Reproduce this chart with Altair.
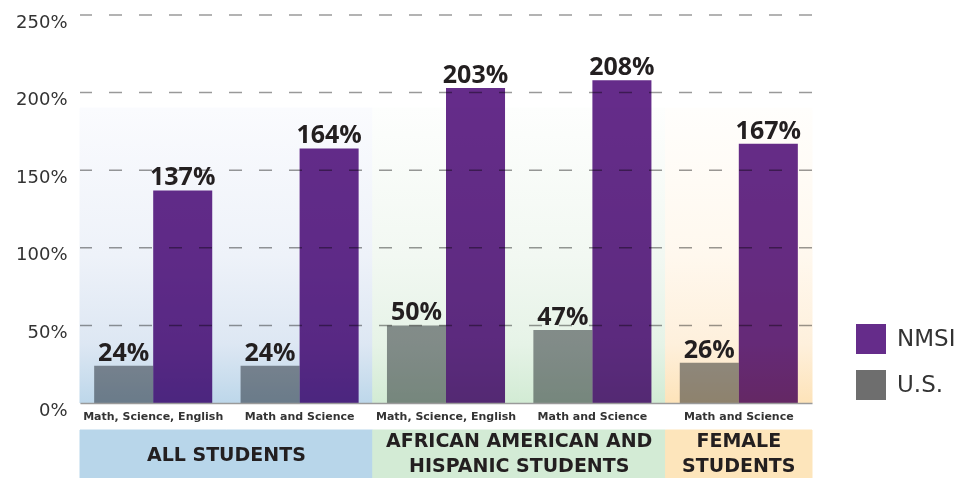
import altair as alt
import pandas as pd

# ---------------- data ----------------
group_names = ["ALL STUDENTS", "AFRICAN AMERICAN AND\nHISPANIC STUDENTS", "FEMALE\nSTUDENTS"]
subjects = ["Math, Science, English", "Math and Science",
            "Math, Science, English", "Math and Science", "Math and Science"]
subject_group = [0, 0, 1, 1, 2]
us_values = [24, 24, 50, 47, 26]
nmsi_values = [137, 164, 203, 208, 167]
series_names = ["U.S.", "NMSI"]
legend_order = ["NMSI", "U.S."]
y_ticks = [0, 50, 100, 150, 200, 250]

keys = [f"{i}|{s}" for i, s in enumerate(subjects)]

rows = []
for k, g, u, n in zip(keys, subject_group, us_values, nmsi_values):
    rows.append(dict(key=k, group=g, series="U.S.", value=u))
    rows.append(dict(key=k, group=g, series="NMSI", value=n))
bars_df = pd.DataFrame(rows)
cats_df = pd.DataFrame({"key": keys, "group": subject_group})
# anchor of each group label: the category whose band edge / centre is the group's centre
group_df = pd.DataFrame({"name": group_names, "group": [0, 1, 2],
                         "key": [keys[1], keys[3], keys[4]]})
ticks_df = pd.DataFrame({"tick": y_ticks[1:]})

# ---------------- styles ----------------
BG_TOP = 190
bg_stops = [
    ["#FAFBFE", "#EEF2F9", "#DDE7F3", "#BDD7EA"],
    ["#FDFEFD", "#F2F8F2", "#E6F3E7", "#D2EBD4"],
    ["#FFFEFC", "#FFF8EE", "#FEF0DC", "#FDE3B9"],
]
box_colors = ["#B8D6EA", "#D3EBD5", "#FDE5BB"]
text_color = "#231F20"

x_scale = alt.Scale(domain=keys, paddingInner=0, paddingOuter=0)
x_axis = alt.Axis(labelExpr="split(datum.label, '|')[1]", labelAngle=0,
                  labelFont="DejaVu Sans", labelFontWeight="bold", labelFontSize=11,
                  labelColor="#333333", labelPadding=7, ticks=False, domain=True,
                  domainColor="#9a9a9a", domainWidth=1.5, labelOverlap=False,
                  grid=False, title=None)
y_scale = alt.Scale(domain=[0, 250], nice=False, zero=True)
y_axis = alt.Axis(values=y_ticks, labelExpr="datum.value + '%'", grid=False,
                  ticks=False, domain=False, labelPadding=13, labelOffset=7,
                  labelFont="DejaVu Sans", labelFontSize=18, labelColor="#333333",
                  labelBaseline="middle", title=None)

x_enc = alt.X("key:N", scale=x_scale, axis=x_axis, title=None)
off_enc = alt.XOffset("series:N", scale=alt.Scale(domain=series_names,
                                                  paddingOuter=0.24, paddingInner=0))
y_enc = alt.Y("value:Q", scale=y_scale, axis=y_axis, title=None)

layers = []
# background gradients
for g in range(3):
    grad = alt.Gradient(
        gradient="linear", x1=0, x2=0, y1=0, y2=1,
        stops=[alt.GradientStop(color=bg_stops[g][0], offset=0),
               alt.GradientStop(color=bg_stops[g][1], offset=0.5),
               alt.GradientStop(color=bg_stops[g][2], offset=0.8),
               alt.GradientStop(color=bg_stops[g][3], offset=1)])
    layers.append(
        alt.Chart(cats_df).transform_filter(alt.datum.group == g)
        .mark_rect(fill=grad, stroke=grad, strokeWidth=1)
        .encode(x=x_enc, y=alt.datum(0), y2=alt.datum(BG_TOP))
    )

# group boxes below the axis
box_scale = alt.Scale(domain=[0, 1, 2], range=box_colors)
layers.append(
    alt.Chart(cats_df).mark_rect(strokeWidth=1).encode(
        x=x_enc, y=alt.value(415), y2=alt.value(470),
        fill=alt.Fill("group:N", scale=box_scale, legend=None),
        stroke=alt.Stroke("group:N", scale=box_scale, legend=None))
)

# bars
layers.append(
    alt.Chart(bars_df).mark_bar(blend="multiply").encode(
        x=x_enc, xOffset=off_enc, y=y_enc,
        color=alt.Color("series:N", scale=alt.Scale(domain=series_names,
                                                    range=["#8F9296", "#652C8A"]),
                        legend=None))
)

# legend-only layer (invisible marks)
layers.append(
    alt.Chart(bars_df).mark_square(opacity=0).encode(
        x=x_enc, xOffset=off_enc, y=y_enc,
        color=alt.Color("series:N",
                        scale=alt.Scale(domain=legend_order, range=["#652C8A", "#6E6E6E"]),
                        legend=alt.Legend(orient="none", legendX=776, legendY=309,
                                          title=None, symbolType="square", symbolSize=900,
                                          symbolStrokeWidth=0, labelFontSize=23,
                                          labelFont="DejaVu Sans", labelColor="#333333",
                                          labelOffset=11, rowPadding=16, padding=0,
                                          symbolOpacity=1)))
)

# dashed grid lines on top of bars
layers.append(
    alt.Chart(ticks_df).mark_rule(strokeDash=[13, 17], color="black", opacity=0.4,
                                  strokeWidth=1.5)
    .encode(y=alt.Y("tick:Q", scale=y_scale, axis=y_axis, title=None))
)

# value labels
layers.append(
    alt.Chart(bars_df).transform_calculate(label="datum.value + '%'")
    .mark_text(baseline="alphabetic", dy=-5, font="Open Sans", fontWeight="bold",
               fontSize=25, color=text_color)
    .encode(x=x_enc, xOffset=off_enc, y=y_enc, text="label:N")
)

# group labels
text_props = dict(font="DejaVu Sans", fontWeight="bold", fontSize=19, color=text_color,
                  baseline="middle", align="center", lineBreak="\n", lineHeight=25)
for g, band_pos, ypix in [(0, 0, 440), (1, 0, 426), (2, 0.5, 426)]:
    layers.append(
        alt.Chart(group_df).transform_filter(alt.datum.group == g)
        .mark_text(**text_props)
        .encode(x=alt.X("key:N", scale=x_scale, axis=x_axis, title=None,
                        bandPosition=band_pos),
                y=alt.value(ypix), text="name:N")
    )

chart = (
    alt.layer(*layers)
    .resolve_scale(color="independent")
    .properties(width=732, height=388, autosize=alt.AutoSizeParams(type="none"),
                padding={"left": 72, "top": 7, "right": 146, "bottom": 75},
                background="white")
    .configure_view(stroke=None)
)

chart.save("out.html", embed_options={"renderer": "svg", "actions": False})
